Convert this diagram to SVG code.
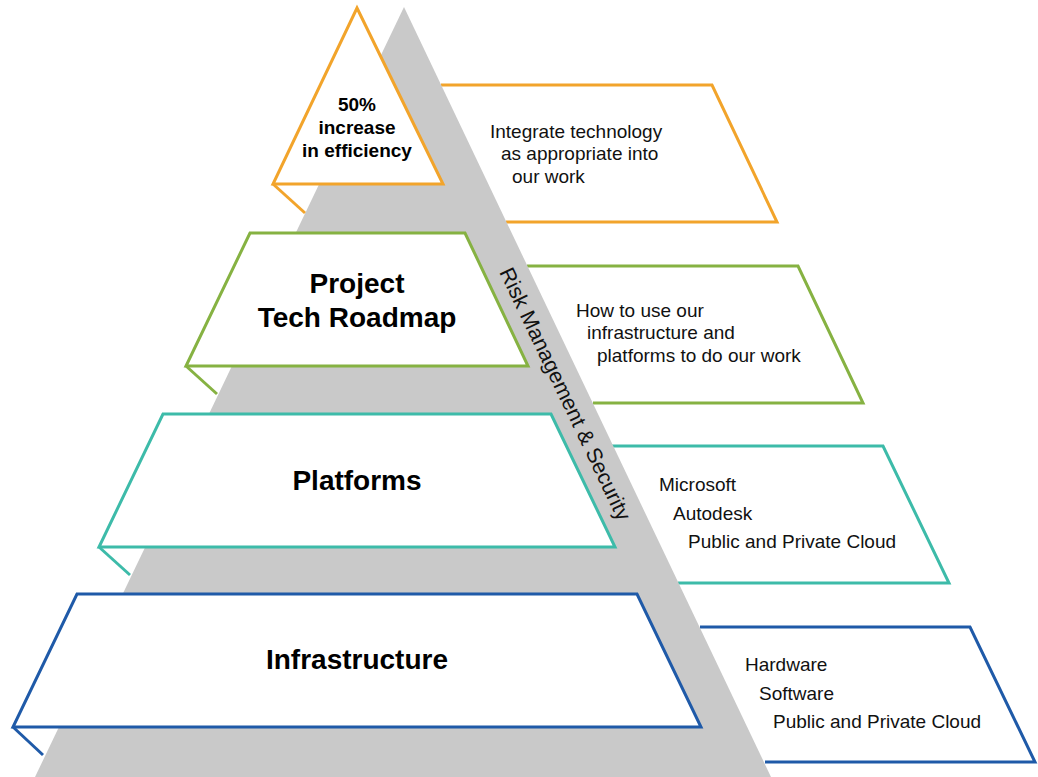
<svg xmlns="http://www.w3.org/2000/svg" width="1038" height="777" viewBox="0 0 1038 777">
<style>
.sh{fill:#fff;stroke-width:3;stroke-linejoin:miter}
.ln{fill:none;stroke-width:3}
.o{stroke:#F2A42B}.g{stroke:#86B242}.t{stroke:#3DBBA9}.b{stroke:#1F5AA8}
.h{font-family:"Liberation Sans",Arial,sans-serif;font-weight:bold;fill:#000;text-anchor:middle}
.d{font-family:"Liberation Sans",Arial,sans-serif;font-size:19px;fill:#111}
</style>
<rect width="1038" height="777" fill="#fff"/>
<g id="descriptions">
<g id="desc-efficiency">
<polygon points="441,85 712,85 777,222 506,222" fill="#fff"/>
<polyline class="ln o" points="441,85 712,85 777,222 506,222"/>
<text class="d" x="490" y="138">Integrate technology</text>
<text class="d" x="501" y="160">as appropriate into</text>
<text class="d" x="512" y="183">our work</text>
</g>
<g id="desc-roadmap">
<polygon points="527,266 798,266 863,403 593,403" fill="#fff"/>
<polyline class="ln g" points="527,266 798,266 863,403 593,403"/>
<text class="d" x="576" y="317">How to use our</text>
<text class="d" x="587" y="339">infrastructure and</text>
<text class="d" x="597" y="362">platforms to do our work</text>
</g>
<g id="desc-platforms">
<polygon points="612,446 883,446 949,583 678,583" fill="#fff"/>
<polyline class="ln t" points="612,446 883,446 949,583 678,583"/>
<text class="d" x="659" y="491">Microsoft</text>
<text class="d" x="673" y="520">Autodesk</text>
<text class="d" x="688" y="548">Public and Private Cloud</text>
</g>
<g id="desc-infrastructure">
<polygon points="700,627 970,627 1035,762 765,762" fill="#fff"/>
<polyline class="ln b" points="700,627 970,627 1035,762 765,762"/>
<text class="d" x="745" y="671">Hardware</text>
<text class="d" x="759" y="700">Software</text>
<text class="d" x="773" y="728">Public and Private Cloud</text>
</g>
</g>
<g id="risk-band">
<polygon points="404,7 35,777 771,777" fill="#C9C9C9"/>
<text x="565" y="394" transform="rotate(64.5 565 394)" font-family="'Liberation Sans',Arial,sans-serif" font-size="21.5" fill="#111" text-anchor="middle" dominant-baseline="central">Risk Management &amp; Security</text>
</g>
<g id="connectors">
<line class="ln o" x1="273" y1="184" x2="305" y2="213"/>
<line class="ln g" x1="186" y1="366" x2="217" y2="394"/>
<line class="ln t" x1="99" y1="547" x2="130" y2="575"/>
<line class="ln b" x1="13" y1="727" x2="43" y2="755"/>
</g>
<g id="level-efficiency">
<polygon class="sh o" points="357,8 443,184 273,184"/>
<text class="h" x="357" y="111" font-size="19">50%</text>
<text class="h" x="357" y="134" font-size="19">increase</text>
<text class="h" x="357" y="157" font-size="19">in efficiency</text>
</g>
<g id="level-roadmap">
<polygon class="sh g" points="250,233 465,233 528,366 186,366"/>
<text class="h" x="357" y="293" font-size="28">Project</text>
<text class="h" x="357" y="327" font-size="28">Tech Roadmap</text>
</g>
<g id="level-platforms">
<polygon class="sh t" points="163,414 551,414 615,547 99,547"/>
<text class="h" x="357" y="490" font-size="28">Platforms</text>
</g>
<g id="level-infrastructure">
<polygon class="sh b" points="77,594 637,594 701,727 13,727"/>
<text class="h" x="357" y="669" font-size="28">Infrastructure</text>
</g>
</svg>
